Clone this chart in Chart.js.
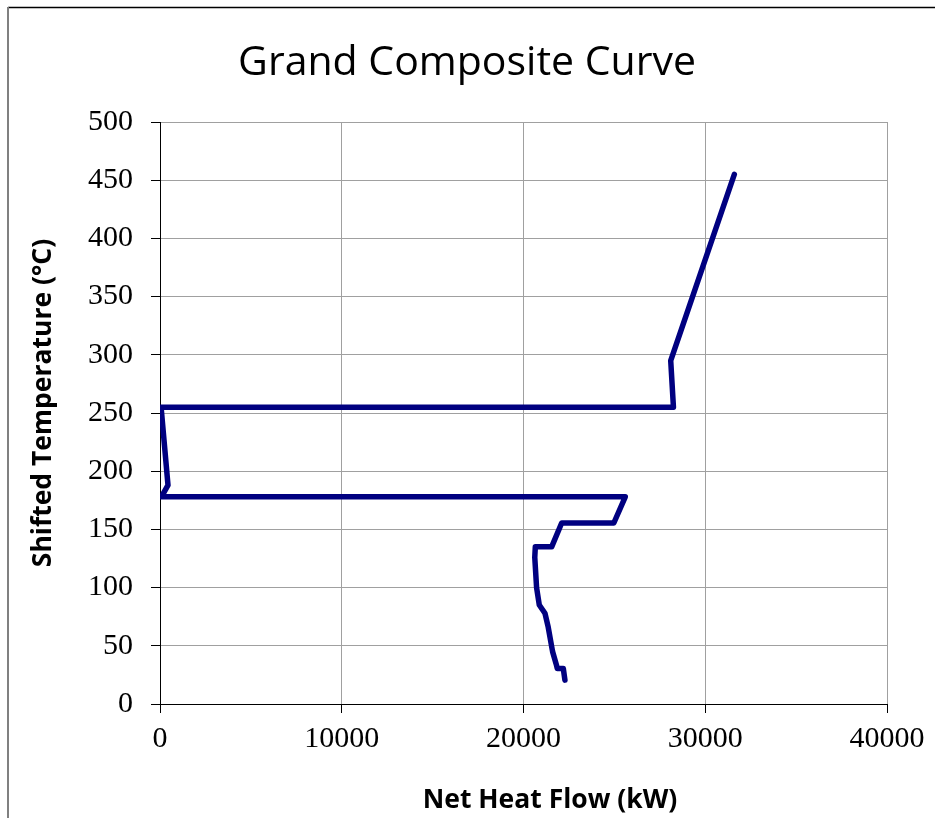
<!DOCTYPE html>
<html>
<head>
<meta charset="utf-8">
<script src="https://cdn.jsdelivr.net/npm/chart.js@4"></script>
<style>
html,body{margin:0;padding:0;background:#fff;}
#wrap{width:935px;height:818px;position:relative;}
</style>
</head>
<body>
<div id="wrap"><canvas id="c" width="935" height="818"></canvas></div>
<script>
// Data
const heatFlow = [31600, 28100, 28250, 60, 440, 80, 25600, 24970, 22100, 21550, 20650, 20620, 20720, 20870, 21180, 21360, 21600, 21820, 21860, 22190, 22280];
const temperature = [455, 295, 255, 255, 188, 178, 178, 155.5, 155.5, 135, 135, 126, 100, 85, 78, 66, 45, 33, 30.5, 30.5, 20.5];
const xTicks = [0, 10000, 20000, 30000, 40000];
const yTicks = [0, 50, 100, 150, 200, 250, 300, 350, 400, 450, 500];
const chartTitle = 'Grand Composite Curve';
const xTitle = 'Net Heat Flow (kW)';
const yTitle = 'Shifted Temperature (°C)';

const points = heatFlow.map((x, i) => ({x: x, y: temperature[i]}));

const decor = {
  id: 'decor',
  beforeDraw(chart) {
    const ctx = chart.ctx;
    ctx.save();
    ctx.fillStyle = '#fff';
    ctx.fillRect(0, 0, chart.width, chart.height);
    ctx.strokeStyle = '#000';
    ctx.lineWidth = 1.5;
    ctx.beginPath();
    ctx.moveTo(8, 7.5); ctx.lineTo(chart.width, 7.5);
    ctx.stroke();
    ctx.strokeStyle = '#808080';
    ctx.lineWidth = 2;
    ctx.beginPath();
    ctx.moveTo(8, 7); ctx.lineTo(8, chart.height);
    ctx.stroke();
    ctx.restore();
  },
  afterDraw(chart) {
    const ctx = chart.ctx;
    ctx.save();
    ctx.fillStyle = '#000';
    ctx.textAlign = 'center';
    ctx.textBaseline = 'middle';
    ctx.font = '41px "Open Sans"';
    ctx.fillText(chartTitle, 467, 63);
    ctx.font = 'bold 26.5px "Open Sans"';
    ctx.fillText(xTitle, 550, 800);
    ctx.translate(43, 403);
    ctx.rotate(-Math.PI / 2);
    ctx.fillText(yTitle, 0, 0);
    ctx.restore();
  }
};

new Chart(document.getElementById('c'), {
  type: 'scatter',
  data: {
    datasets: [{
      data: points,
      showLine: true,
      borderColor: '#000080',
      backgroundColor: '#000080',
      borderWidth: 5.5,
      pointRadius: 0,
      borderJoinStyle: 'round',
      borderCapStyle: 'round',
      tension: 0
    }]
  },
  options: {
    responsive: false,
    animation: false,
    layout: {padding: {top: 122, right: 48, left: 0, bottom: 0}},
    plugins: {legend: {display: false}, title: {display: false}, tooltip: {enabled: false}},
    scales: {
      x: {
        type: 'linear',
        min: 0, max: 40000,
        afterFit(s) { s.height = 114; },
        afterBuildTicks(s) { s.ticks = xTicks.map(v => ({value: v})); },
        border: {display: true, color: '#000', width: 1},
        grid: {color: '#a0a0a0', lineWidth: 1, tickLength: 9, tickColor: '#000'},
        ticks: {color: '#000', padding: 8, font: {family: '"Liberation Serif"', size: 30}, maxRotation: 0, callback: v => String(v)}
      },
      y: {
        type: 'linear',
        min: 0, max: 500,
        afterFit(s) { s.width = 160; },
        afterBuildTicks(s) { s.ticks = yTicks.map(v => ({value: v})); },
        border: {display: true, color: '#000', width: 1},
        grid: {color: '#a0a0a0', lineWidth: 1, tickLength: 9, tickColor: '#000'},
        ticks: {color: '#000', padding: 18, font: {family: '"Liberation Serif"', size: 30}, callback: v => String(v)}
      }
    }
  },
  plugins: [decor]
});
</script>
</body>
</html>
